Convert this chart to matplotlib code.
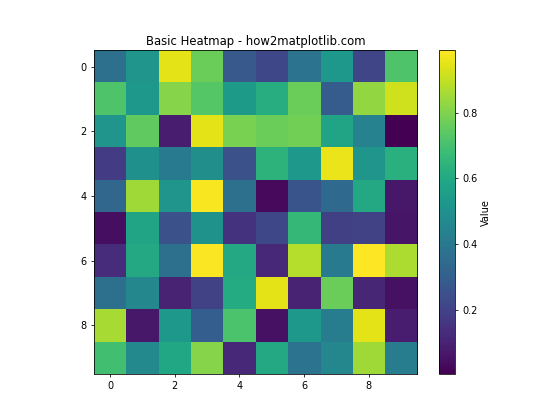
import numpy as np
import matplotlib
matplotlib.use("Agg")
import matplotlib.pyplot as plt

row0 = [0.37, 0.52, 0.95, 0.77, 0.28, 0.22, 0.38, 0.53, 0.21, 0.72]
row1 = [0.72, 0.53, 0.81, 0.73, 0.54, 0.62, 0.77, 0.29, 0.83, 0.92]
row2 = [0.52, 0.75, 0.08, 0.95, 0.79, 0.77, 0.78, 0.58, 0.44, 0.005]
row3 = [0.18, 0.50, 0.41, 0.49, 0.25, 0.64, 0.53, 0.96, 0.52, 0.63]
row4 = [0.33, 0.85, 0.52, 0.98, 0.37, 0.03, 0.26, 0.34, 0.60, 0.07]
row5 = [0.04, 0.58, 0.25, 0.51, 0.15, 0.22, 0.66, 0.19, 0.20, 0.06]
row6 = [0.13, 0.60, 0.37, 0.985, 0.60, 0.12, 0.88, 0.41, 0.99, 0.87]
row7 = [0.37, 0.46, 0.10, 0.20, 0.61, 0.95, 0.10, 0.77, 0.11, 0.05]
row8 = [0.86, 0.07, 0.53, 0.30, 0.71, 0.05, 0.53, 0.42, 0.95, 0.08]
row9 = [0.69, 0.47, 0.59, 0.81, 0.12, 0.60, 0.38, 0.46, 0.85, 0.42]

data = np.array([row0, row1, row2, row3, row4, row5, row6, row7, row8, row9])

plt.figure(figsize=(8, 6), dpi=70)
im = plt.imshow(data, cmap="viridis")
plt.colorbar(im, label="Value")
plt.title("Basic Heatmap - how2matplotlib.com")
plt.savefig("out.png", dpi=70)
